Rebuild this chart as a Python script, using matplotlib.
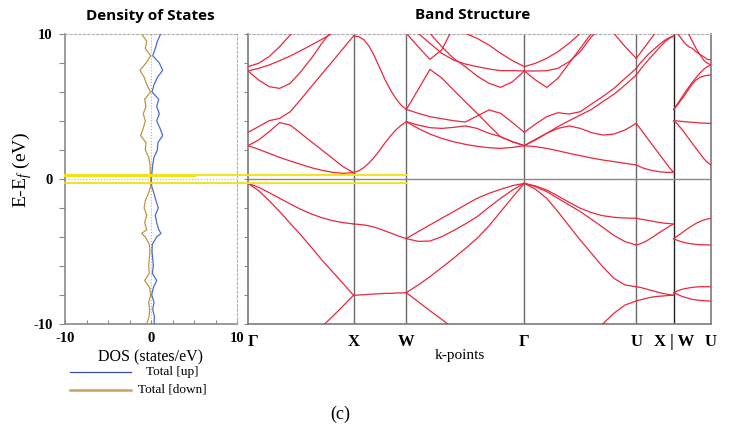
import numpy as np
import matplotlib
matplotlib.use('Agg')
import matplotlib.pyplot as plt
from matplotlib.lines import Line2D
from matplotlib.patches import ConnectionPatch
from matplotlib.ticker import MultipleLocator

plt.rcParams['mathtext.fontset'] = 'custom'
plt.rcParams['mathtext.rm'] = 'Liberation Serif'
plt.rcParams['mathtext.it'] = 'Liberation Serif:italic'

nan = np.nan
SERIF = 'Liberation Serif'

# ---------------- DOS data ----------------
dos_E = [10, 9.5, 9, 8.5, 8, 7.5, 7, 6.5, 6, 5.5, 5, 4.5, 4, 3.5, 3, 2.5, 2, 1.5, 1, 0.5, 0,
         -0.5, -1, -1.5, -2, -2.5, -3, -3.5, -3.75, -4, -4.5, -5, -5.5, -6, -6.5, -7, -7.5,
         -8, -8.5, -9, -9.5, -10]
dos_up = [1.12, 0.74, 0.50, 0.20, 0.97, 1.36, 0.74, 0.35, 0.12, 0.90, 0.66, 0.97, 0.66, 1.05,
          1.36, 0.80, 0.74, 0.35, 0.20, 0.12, 0.05, 0.08, 0.35, 0.58, 0.85, 0.50, 0.66, 0.90,
          1.16, 0.66, 0.15, 0.12, 0.20, 0.27, 0.15, 0.66, 0.27, 0.08, 0.35, 0.20, 0.40, 0.35]
dos_dn = [-1.08, -0.50, -0.66, -0.05, -0.58, -1.28, -0.78, -0.50, -0.05, -0.74, -0.58, -0.90,
          -0.66, -0.90, -1.20, -0.58, -0.66, -0.27, -0.12, -0.08, -0.05, -0.04, -0.30, -0.66,
          -0.80, -0.50, -0.74, -0.50, -1.08, -0.66, -0.20, -0.12, -0.20, -0.27, -0.20, -0.74,
          -0.15, -0.04, -0.27, -0.15, -0.23, -0.50]

# ---------------- band structure data ----------------
kpath_labels = ['Γ', 'X', 'W', 'Γ', 'U', 'X|W', 'U']
kpath_pos = [0.0, 1.0, 1.5, 2.618, 3.679, 4.033, 4.387]
seg_frac = [0.0, 0.1, 0.2, 0.3, 0.4, 0.5, 0.6, 0.7, 0.8, 0.9, 1.0]

bands_GX = [
    [2.30, 2.05, 1.77, 1.49, 1.24, 1.01, 0.78, 0.60, 0.46, 0.39, 0.44],
    [2.30, 2.69, 3.26, 3.89, 3.72, 3.15, 2.57, 2.00, 1.43, 0.85, 0.44],
    [3.22, 3.61, 4.02, 4.18, 4.64, 5.49, 6.37, 7.24, 8.11, 8.99, 9.86],
    [7.75, 7.98, 8.44, 9.13, 9.93, 10.5, nan, nan, nan, nan, nan],
    [7.45, 7.63, 7.86, 8.16, 8.48, 8.85, 9.24, 9.63, 10.05, 10.4, nan],
    [7.45, 6.83, 6.37, 6.25, 6.60, 7.40, 8.32, 9.36, 10.3, nan, nan],
    [-0.30, -0.57, -0.94, -1.33, -1.72, -2.09, -2.41, -2.67, -2.87, -3.01, -3.10],
    [-0.30, -0.80, -1.49, -2.25, -3.06, -3.86, -4.71, -5.59, -6.39, -7.20, -8.02],
    [nan, nan, nan, nan, nan, nan, nan, -10.18, -9.49, -8.76, -8.02],
]
bands_XW = [
    [0.44, 0.57, 0.80, 1.13, 1.54, 2.00, 2.51, 2.97, 3.38, 3.70, 3.95],
    [9.86, 9.82, 9.59, 9.13, 8.44, 7.63, 6.83, 6.14, 5.56, 5.10, 4.80],
    [-3.10, -3.13, -3.17, -3.24, -3.33, -3.45, -3.59, -3.72, -3.86, -4.00, -4.11],
    [-8.02, -8.00, -7.98, -7.95, -7.93, -7.91, -7.89, -7.89, -7.86, -7.86, -7.84],
]
bands_WG = [
    [4.80, 4.53, 4.30, 4.16, 4.02, 3.93, 4.34, 4.76, 4.53, 3.89, 3.22],
    [3.95, 3.49, 3.10, 2.80, 2.57, 2.39, 2.25, 2.16, 2.11, 2.18, 2.30],
    [3.95, 3.72, 3.54, 3.49, 3.56, 3.66, 3.49, 3.15, 2.92, 2.57, 2.30],
    [4.80, 6.16, 7.56, 6.97, 6.14, 5.33, 4.53, 3.70, 2.90, 2.57, 2.30],
    [10.05, 9.13, 8.25, 8.90, 10.5, nan, nan, nan, nan, nan, nan],
    [10.5, 10.05, 9.36, 8.67, 8.21, 7.93, 7.75, 7.59, 7.47, 7.47, 7.45],
    [nan, nan, nan, nan, 10.5, 10.05, 9.70, 9.24, 8.67, 8.16, 7.75],
    [nan, 10.6, 10.05, 9.13, 8.32, 7.75, 7.10, 6.60, 6.32, 6.71, 7.45],
    [-4.11, -3.63, -3.17, -2.71, -2.25, -1.79, -1.33, -0.99, -0.71, -0.46, -0.30],
    [-4.11, -4.30, -4.28, -3.98, -3.56, -3.10, -2.60, -1.95, -1.33, -0.76, -0.30],
    [-7.84, -7.31, -6.74, -6.11, -5.47, -4.80, -4.09, -3.24, -2.25, -1.26, -0.30],
    [-7.84, -8.46, -9.08, -9.68, -10.30, nan, nan, nan, nan, nan, nan],
]
bands_GU = [
    [3.22, 3.79, 4.30, 4.57, 4.48, 4.64, 5.17, 5.68, 6.25, 6.94, 7.63],
    [2.30, 2.69, 3.15, 3.61, 4.02, 4.41, 4.80, 5.33, 5.84, 6.48, 7.17],
    [2.30, 2.74, 3.15, 3.49, 3.66, 3.49, 3.20, 3.03, 3.10, 3.38, 3.84],
    [2.30, 2.23, 2.11, 1.95, 1.77, 1.61, 1.45, 1.31, 1.20, 1.08, 0.97],
    [7.75, 7.98, 8.32, 8.78, 9.36, 10.05, 10.6, nan, nan, nan, nan],
    [7.45, 7.45, 7.47, 7.63, 8.09, 8.78, 9.82, 10.5, nan, nan, nan],
    [7.45, 6.83, 6.32, 6.94, 7.98, 9.01, 10.05, 10.6, nan, nan, nan],
    [nan, nan, nan, nan, nan, nan, nan, 10.6, 10.05, 9.13, 8.32],
    [-0.30, -0.48, -0.76, -1.17, -1.61, -2.02, -2.32, -2.53, -2.64, -2.69, -2.71],
    [-0.30, -0.53, -0.87, -1.33, -1.79, -2.25, -2.78, -3.33, -3.89, -4.32, -4.55],
    [-0.30, -0.71, -1.33, -2.25, -3.24, -4.21, -5.13, -6.05, -6.85, -7.31, -7.43],
    [nan, nan, nan, nan, nan, nan, -10.64, -10.0, -9.26, -8.69, -8.41],
]
bands_UX = [
    [0.97, 0.85, 0.74, 0.67, 0.60, 0.55, 0.51, 0.48, 0.46, 0.46, 0.46],
    [3.84, 3.49, 3.15, 2.80, 2.46, 2.11, 1.77, 1.43, 1.08, 0.74, 0.46],
    [7.63, 7.98, 8.25, 8.55, 8.78, 9.01, 9.24, 9.45, 9.63, 9.77, 9.86],
    [7.17, 7.52, 7.84, 8.14, 8.44, 8.71, 9.01, 9.29, 9.54, 9.72, 9.86],
    [8.32, 8.67, 9.01, 9.36, 9.70, 10.05, 10.4, nan, nan, nan, nan],
    [-2.71, -2.76, -2.80, -2.85, -2.90, -2.94, -2.99, -3.03, -3.06, -3.08, -3.10],
    [-4.55, -4.48, -4.37, -4.23, -4.07, -3.91, -3.72, -3.56, -3.40, -3.24, -3.10],
    [-7.43, -7.47, -7.54, -7.61, -7.68, -7.75, -7.82, -7.89, -7.93, -7.98, -8.02],
    [-8.41, -8.34, -8.28, -8.21, -8.16, -8.11, -8.09, -8.07, -8.05, -8.02, -8.02],
]
bands_WU = [
    [4.80, 5.10, 5.45, 5.79, 6.18, 6.55, 6.83, 7.01, 7.10, 7.15, 7.17],
    [4.80, 5.17, 5.56, 5.95, 6.32, 6.67, 6.99, 7.29, 7.56, 7.75, 7.86],
    [4.02, 4.00, 3.98, 3.95, 3.93, 3.91, 3.89, 3.86, 3.86, 3.84, 3.84],
    [4.02, 3.79, 3.49, 3.15, 2.80, 2.46, 2.11, 1.77, 1.43, 1.15, 0.97],
    [10.3, 10.05, 9.70, 9.36, 9.13, 9.01, 8.78, 8.60, 8.44, 8.25, 8.21],
    [nan, nan, nan, 10.3, 10.0, 9.5, 9.0, 8.6, 8.2, 8.0, 7.86],
    [-4.11, -3.93, -3.75, -3.56, -3.38, -3.22, -3.06, -2.94, -2.83, -2.76, -2.71],
    [-4.11, -4.23, -4.32, -4.39, -4.44, -4.48, -4.51, -4.53, -4.53, -4.55, -4.55],
    [-7.84, -7.72, -7.63, -7.56, -7.52, -7.47, -7.45, -7.43, -7.43, -7.43, -7.43],
    [-7.84, -7.95, -8.07, -8.16, -8.23, -8.30, -8.34, -8.37, -8.39, -8.41, -8.41],
]
segments = [bands_GX, bands_XW, bands_WG, bands_GU, bands_UX, bands_WU]

edge_marks = [0.28, -0.28]

# ---------------- figure ----------------
W, H = 736, 432
fig = plt.figure(figsize=(W / 100, H / 100), dpi=100)

def rect(l, t, r, b):
    return [l / W, 1 - b / H, (r - l) / W, (b - t) / H]

ax_d = fig.add_axes(rect(65, 34, 237, 324))
ax_b = fig.add_axes(rect(248, 34, 711, 324))

spine_col = '#8a8a8a'
dot_col = '#b0b0b0'

# --- DOS panel ---
ax_d.set_xlim(-10, 10)
ax_d.set_ylim(-10, 10)
ax_d.axvline(0, color=dot_col, lw=0.8, ls=':', zorder=1)
ax_d.axhline(0, color=dot_col, lw=0.8, ls=':', zorder=1)
ax_d.plot(dos_up, dos_E, color='#4d6bd6', lw=0.9, zorder=3)
ax_d.plot(dos_dn, dos_E, color='#c0953f', lw=0.9, zorder=3)
for s in ['top', 'right']:
    ax_d.spines[s].set_linestyle((0, (2, 2)))
    ax_d.spines[s].set_color(dot_col)
    ax_d.spines[s].set_linewidth(0.8)
for s in ['left', 'bottom']:
    ax_d.spines[s].set_color(spine_col)
    ax_d.spines[s].set_linewidth(1.2)
ax_d.set_yticks([-10, 0, 10])
ax_d.set_yticklabels(['-10', '0', '10'])
ax_d.yaxis.set_minor_locator(MultipleLocator(2))
ax_d.set_xticks([-10, 0, 10])
ax_d.set_xticklabels(['-10', '0', '10'])
ax_d.xaxis.set_minor_locator(MultipleLocator(2.5))
ax_d.tick_params(axis='y', which='both', direction='out', length=4, width=0.8,
                 color=spine_col, pad=5)
ax_d.tick_params(axis='x', which='both', direction='in', length=3, width=0.8,
                 color=spine_col, pad=6)
for lab in ax_d.get_xticklabels() + ax_d.get_yticklabels():
    lab.set_fontfamily(SERIF)
    lab.set_fontweight('bold')
    lab.set_fontsize(10.5)
ax_d.set_xlabel('DOS (states/eV)', fontfamily=SERIF, fontsize=11.5, labelpad=3)

# --- band panel ---
ax_b.set_xlim(kpath_pos[0], kpath_pos[-1])
ax_b.set_ylim(-10, 10)
band_col = '#e8283f'
for i, seg in enumerate(segments):
    k0, k1 = kpath_pos[i], kpath_pos[i + 1]
    ks = [k0 + f * (k1 - k0) for f in seg_frac]
    for e in seg:
        ax_b.plot(ks, e, color=band_col, lw=0.9, zorder=3, clip_on=True)
for j, kp in enumerate(kpath_pos[1:-1]):
    c = '#222222' if kpath_labels[j + 1] == 'X|W' else '#6a6a6a'
    ax_b.axvline(kp, color=c, lw=1.0, zorder=2)
ax_b.axhline(0, color='#8a8a8a', lw=1.0, zorder=2)
ax_b.spines['top'].set_linestyle((0, (2, 2)))
ax_b.spines['top'].set_color(dot_col)
ax_b.spines['top'].set_linewidth(0.8)
for s in ['left', 'bottom', 'right']:
    ax_b.spines[s].set_color('#7a7a7a')
    ax_b.spines[s].set_linewidth(1.2)
ax_b.set_xticks(kpath_pos)
ax_b.set_xticklabels(['Γ', 'X', 'W', 'Γ', 'U', 'X | W', 'U'])
ax_b.tick_params(axis='x', length=0, pad=7)
for lab in ax_b.get_xticklabels():
    lab.set_fontfamily(SERIF)
    lab.set_fontweight('bold')
    lab.set_fontsize(12)
ax_b.get_xticklabels()[0].set_horizontalalignment('left')
ax_b.yaxis.set_major_locator(MultipleLocator(2))
ax_b.tick_params(axis='y', direction='out', length=3, width=0.8, color=spine_col,
                 labelleft=False)

# yellow band-edge markers spanning DOS panel into band panel
for e in edge_marks:
    cp = ConnectionPatch(xyA=(-10, e), coordsA=ax_d.transData,
                         xyB=(kpath_pos[2], e), coordsB=ax_b.transData,
                         color='#f2e21c', lw=1.4, zorder=5)
    fig.add_artist(cp)
ax_d.plot([-10, 5], [edge_marks[0], edge_marks[0]], color='#f2e21c', lw=2.2,
          zorder=5, clip_on=False)

# texts
fig.text(150 / W, 1 - 16 / H, 'Density of States', fontfamily='Open Sans', fontweight='bold',
         fontsize=11, ha='center', va='center')
fig.text(473 / W, 1 - 15 / H, 'Band Structure', fontfamily='Open Sans', fontweight='bold',
         fontsize=11, ha='center', va='center')
fig.text(22 / W, 1 - 170 / H, r'E-E$_f$ (eV)', fontfamily=SERIF, fontsize=14,
         rotation=90, ha='center', va='center')
fig.text(460 / W, 1 - 356 / H, 'k-points', fontfamily=SERIF, fontsize=11,
         ha='center', va='center')
fig.text(340 / W, 1 - 414 / H, '(c)', fontfamily=SERIF, fontsize=13,
         ha='center', va='center')

# legend
fig.add_artist(Line2D([70 / W, 131 / W], [1 - 371.5 / H, 1 - 371.5 / H],
                      color='#3a4cb6', lw=0.9))
fig.add_artist(Line2D([70 / W, 131 / W], [1 - 390 / H, 1 - 390 / H],
                      color='#c9a365', lw=1.8))
fig.text(172 / W, 1 - 371.5 / H, 'Total [up]', fontfamily=SERIF, fontsize=9.5,
         ha='center', va='center')
fig.text(172 / W, 1 - 390 / H, 'Total [down]', fontfamily=SERIF, fontsize=9.5,
         ha='center', va='center')

fig.savefig('out.png', dpi=100)
